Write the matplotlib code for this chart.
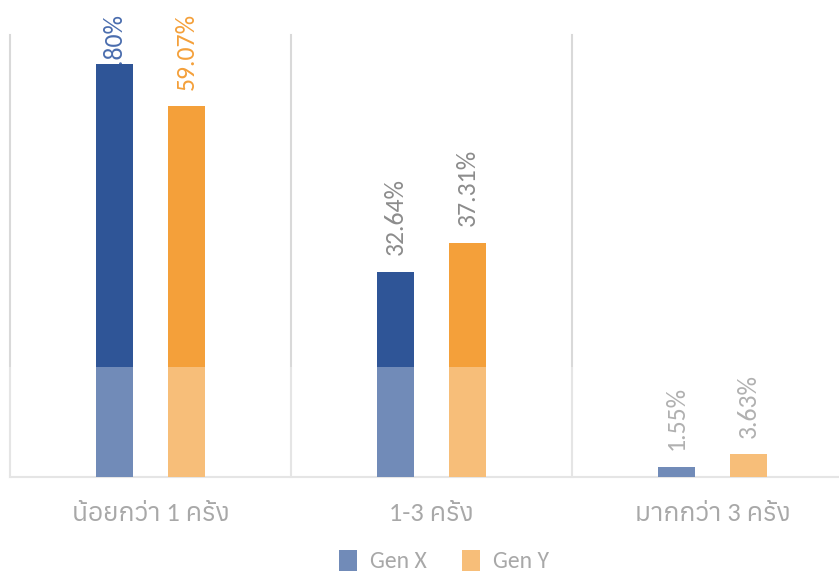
import matplotlib
matplotlib.use("Agg")
import matplotlib.pyplot as plt
from matplotlib.patches import Rectangle
import numpy as np

categories = ["น้อยกว่า 1 ครั้ง", "1-3 ครั้ง", "มากกว่า 3 ครั้ง"]
gen_x = [65.80, 32.64, 1.55]
gen_y = [59.07, 37.31, 3.63]
series_names = ["Gen X", "Gen Y"]

plt.rcParams['font.family'] = ['Carlito', 'Anuphan', 'Loma', 'DejaVu Sans']

W, H = 839, 571
fig = plt.figure(figsize=(W / 100, H / 100), dpi=100)
ax = fig.add_axes([10 / W, (H - 477) / H, 843 / W, 442 / H])

c_x = "#2F5597"
c_y = "#F4A03A"
x = np.arange(len(categories))
off = 0.128
bw = 0.135
bx = ax.bar(x - off, gen_x, bw, color=c_x, label=series_names[0], zorder=3)
by = ax.bar(x + off, gen_y, bw, color=c_y, label=series_names[1], zorder=3)

ymax = 70.4
ax.set_xlim(-0.5, 2.5)
ax.set_ylim(0, ymax)
for b in [-0.5, 0.5, 1.5, 2.5]:
    ax.axvline(b, color="#D9D9D9", lw=1.5, zorder=1, clip_on=False)
for s in ["top", "right", "left"]:
    ax.spines[s].set_visible(False)
ax.spines["bottom"].set_color("#D9D9D9")
ax.spines["bottom"].set_linewidth(1.5)
ax.set_yticks([])
ax.set_xticks(x)
ax.set_xticklabels(categories, fontsize=19, color="#808080")
ax.tick_params(axis="x", length=0, pad=18)

label_colors_x = ["#4A6DAE", "#8C8C8C", "#8C8C8C"]
label_colors_y = ["#F4A03A", "#8C8C8C", "#8C8C8C"]
# labels are pushed down to stay inside the chart area (top limit ~13px from top)
top_limit = ymax * (477 - 13) / 442
fs = 18.5
for i in range(len(categories)):
    vx = gen_x[i] + 2.7
    if vx + 12.3 > top_limit:
        ax.text(x[i] - off, top_limit, f"{gen_x[i]:.2f}%", rotation=90,
                ha="center", va="top", fontsize=fs, color=label_colors_x[i],
                clip_on=False, zorder=2)
    else:
        ax.text(x[i] - off, vx, f"{gen_x[i]:.2f}%", rotation=90,
                ha="center", va="bottom", fontsize=fs, color=label_colors_x[i],
                clip_on=False, zorder=4)
    ax.text(x[i] + off, gen_y[i] + 2.6, f"{gen_y[i]:.2f}%", rotation=90,
            ha="center", va="bottom", fontsize=fs, color=label_colors_y[i],
            clip_on=False, zorder=4)

fig.legend(handles=[bx, by], labels=series_names, loc="center",
           bbox_to_anchor=(444 / W, (H - 561) / H), ncol=2, frameon=False,
           fontsize=17, labelcolor="#808080", handlelength=0.75, handleheight=1.0,
           columnspacing=1.5, handletextpad=0.55, borderpad=0)

fig.patches.append(Rectangle((0, 0), 1, (H - 367) / H, transform=fig.transFigure,
                             facecolor="white", alpha=0.32, edgecolor="none",
                             zorder=10))

fig.savefig("out.png", dpi=100)
